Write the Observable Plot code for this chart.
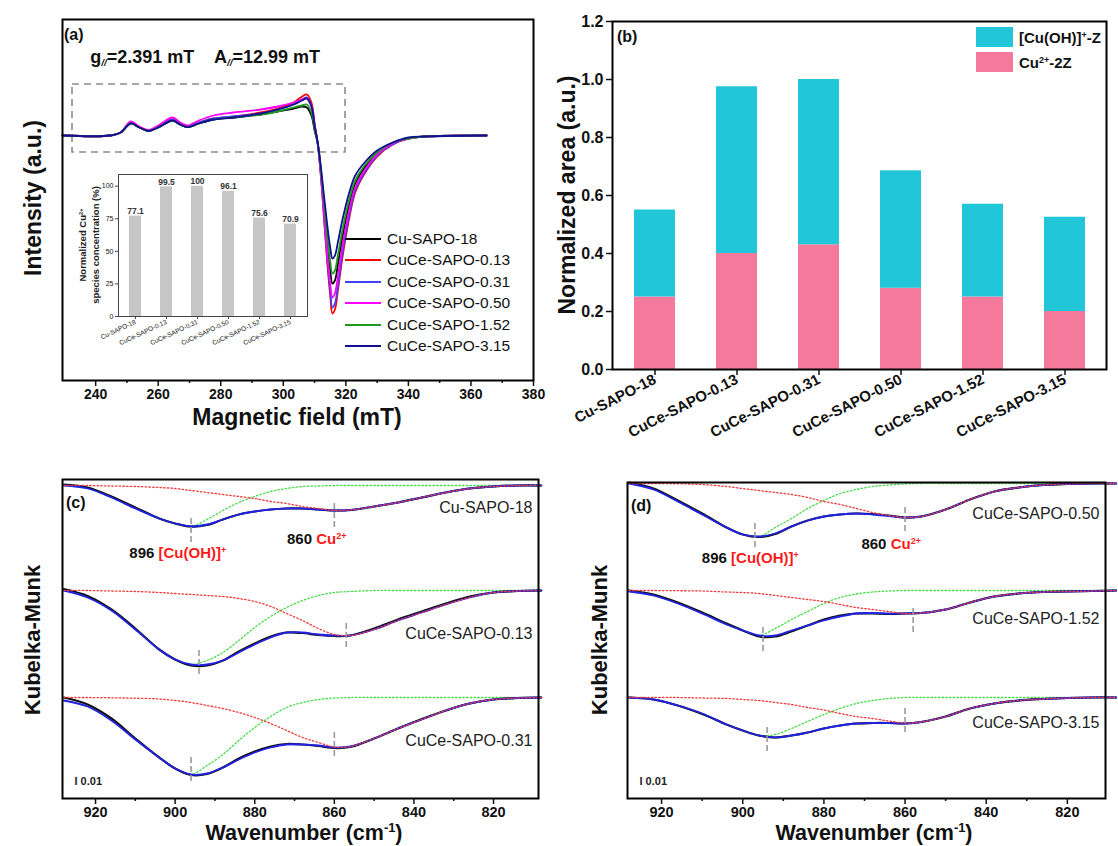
<!DOCTYPE html>
<html><head><meta charset="utf-8">
<script src="https://cdn.jsdelivr.net/npm/d3@7"></script>
<script src="https://cdn.jsdelivr.net/npm/@observablehq/plot@0.6"></script>
<style>
body{margin:0;background:#fff;}
#root{position:relative;width:1118px;height:846px;overflow:hidden;background:#fff;font-family:"Liberation Sans",Arial,Helvetica,sans-serif;color:#111;}
.abs{position:absolute;white-space:nowrap;line-height:1;}
sup{font-size:0.6em;vertical-align:0;position:relative;top:-0.6em;}
sub{font-size:0.55em;vertical-align:0;position:relative;top:0.35em;font-style:italic;}
</style></head><body><div id="root"></div>
<script>
// ---------------- DATA ----------------
const samples = ["Cu-SAPO-18","CuCe-SAPO-0.13","CuCe-SAPO-0.31","CuCe-SAPO-0.50","CuCe-SAPO-1.52","CuCe-SAPO-3.15"];

// (a) EPR spectra (magnetic field in mT, intensity a.u.)
const eprField = [229.4,244.8,248,251.2,254,256.9,260,264.6,267,269.4,273,277.7,284.1,292.8,298.2,303.3,306,307.5,309,310,311,312,313,314,315,315.7,316.5,317.5,319,321,323,326,330,335,340,345,365];
const eprCu18   = [0,0,3,12,8,4.5,8,15,11,8.5,12,16,18,21,24,27,29,28,20,5,-8,-35,-70,-105,-135,-148,-145,-128,-100,-70,-48,-32,-18,-8,-3,-1,0];
const eprCe013  = [0,0,3,13,8,5,9,16,12,9,13,17,19,23,27,33,39,41,33,12,-8,-40,-82,-125,-160,-178,-174,-154,-120,-84,-57,-38,-21,-9,-3,-1,0];
const eprCe031  = [0,0,3,13,8,5,9,16,12,9,13,17,19,22,26,31,36,38,30,10,-8,-39,-80,-121,-155,-172,-168,-149,-116,-81,-55,-37,-20,-9,-3,-1,0];
const eprCe050  = [0,0,3,14,9,5.5,10,18,13,10,15,20,23,26,29,33,36,37,29,10,-8,-38,-77,-116,-148,-162,-158,-140,-109,-76,-52,-35,-19,-8,-3,-1,0];
const eprCe152  = [0,0,3,12,8,4.5,8,15,11,8.5,12,16,18,21,24,28,30,31,23,7,-8,-34,-66,-99,-126,-138,-135,-119,-93,-65,-45,-30,-17,-7,-3,-1,0];
const eprCe315  = [0,0,3,12,8,4.5,8,15,11,8.5,12,16,18,22,26,31,35,37,29,10,-7,-31,-60,-88,-112,-123,-120,-106,-83,-58,-40,-27,-15,-7,-2,-1,0];
const eprValues = [eprCu18, eprCe013, eprCe031, eprCe050, eprCe152, eprCe315];
const eprColors = ["#000000","#ff0000","#4040ff","#ff00ff","#1f9a1f","#101090"];
const hyperfineBox = [{x1: 232.6, x2: 319.9, y1: -17, y2: 51}];

// (a) inset: normalized Cu2+ species concentration (%)
const insetConc = [77.1, 99.5, 100, 96.1, 75.6, 70.9];

// (b) normalized area
const areaCu2  = [0.25, 0.40, 0.43, 0.28, 0.25, 0.20];
const areaCuOH = [0.30, 0.575, 0.57, 0.405, 0.32, 0.325];
const speciesNames = ["Cu2+-2Z", "[Cu(OH)]+-Z"];
const speciesColors = ["#f5799a", "#21c7d9"];

// (c)/(d) Kubelka-Munk spectra: depth below each spectrum baseline
const kmWn = [928,922,916,910,904,900,896,892,888,884,880,876,872,868,864,860,856,850,844,838,832,826,820,814,808];
// Cu-SAPO-18
const km18Fit  = [0,3,12,23,33,38,41,39,34,29,26,24,23,23,24,25,24.5,21,17,12,7,3,1,0,0];
const km18Exp  = [-1,2,11,22,33,38,41,39.5,34,29,26,24,23,23,24,25,24.5,21,17,12,7,3,1,0,0];
const km18CuOH = [0,3,12,23,33,38,41,34,25,17,11,6,3,1,0.5,0,0,0,0,0,0,0,0,0,0];
const km18Cu2  = [0,0,0.5,1,2,3,5,7,9,11,13,16,18,21,23,25,24.5,21,17,12,7,3,1,0,0];
// CuCe-SAPO-0.13
const km013Fit  = [0,7,20,39,59,69,74,74,70,62,54,47,42,42,44,45,45,39,30,22,14,7,2,0.5,0];
const km013Exp  = [-1.5,5.5,19,38,59,69,75,75,70,61,53,46,42,42.5,44.5,45.5,45,38,29,21,13,6,2,0.5,0];
const km013CuOH = [0,7,20,39,59,69,74,70,62,50,37,26,17,10,5,2,1,0,0,0,0,0,0,0,0];
const km013Cu2  = [0,0,0.5,1,2,3,4,5,6,8,11,16,23,30,38,44,45,39,30,22,14,7,2,0.5,0];
// CuCe-SAPO-0.31
const km031Fit  = [3,9,23,42,60,71,77,76,70,62,55,50,47,47,48,50,49,41,31,22,13,6,2,0.5,0];
const km031Exp  = [0,7,21,41,60,71,77.5,76.5,70,61,54,49,46.5,47,48.5,50.5,49.5,41,31,21.5,13,6,2,0.5,0];
const km031CuOH = [3,9,23,42,60,71,77,68,57,43,30,19,10,5,2,0.5,0,0,0,0,0,0,0,0,0];
const km031Cu2  = [0,0,0.3,0.7,1.5,3,5,8,11,15,20,26,33,40,45,49.5,49,41,31,22,13,6,2,0.5,0];
// CuCe-SAPO-0.50
const km050Fit  = [0,6,18,31,44,51,53,50,43,37,33,31,30,31,32.5,34,33,26,16,8,4,1.5,0.5,0,0];
const km050Exp  = [-1,5,17,30,44,51,53.5,50.5,43,37,33,31,30,30.5,32,34,33,26,16,8,4,1.5,0.5,0,0];
const km050CuOH = [0,6,18,31,44,51,53,44,35,25,17,10,6,3,1.5,0.5,0,0,0,0,0,0,0,0,0];
const km050Cu2  = [0,0,0.3,1,3,5,7,9,11,14,18,21,25,29,32,34,33,26,16,8,4,1.5,0.5,0,0];
// CuCe-SAPO-1.52
const km152Fit  = [1,5,13,23,34,40,45,45,40,35,30,26,23,22.5,23,23,22.5,19,12,6,3,1.5,1,0.5,0];
const km152Exp  = [0,4,12,22,33,40,46,46,41,35,29,25,23,23,23.5,23,22.5,19,12,6,3,1.5,1,0.5,0];
const km152CuOH = [1,5,13,23,34,40,45,38,29,21,13,7,3.5,1.5,0.5,0,0,0,0,0,0,0,0,0,0];
const km152Cu2  = [0,0,0.2,0.5,1.5,2,3,5,7,9,11,14,17,19,21,23,22.5,19,12,6,3,1.5,1,0.5,0];
// CuCe-SAPO-3.15
const km315Fit  = [0,2,8,16,27,33,38,40,38,35,31,28,26,25.5,25.5,26,24.5,19,11,6,3,1.5,0.5,0,0];
const km315Exp  = [0,2,8,16.5,27,33,38,40,38,35,31,28,26,25.5,25.5,26,24.5,19,11,6,3,1.5,0.5,0,0];
const km315CuOH = [0,2,8,16,27,33,38,37,31,24,17,11,6,3,1,0,0,0,0,0,0,0,0,0,0];
const km315Cu2  = [0,0,0,0.5,1,2,3,5,7,10,12.5,16,19,21,23.5,25.5,24.5,19,11,6,3,1.5,0.5,0,0];

// fitted band positions (cm-1) per spectrum [Cu(OH)]+, Cu2+
const peakCuOH = [896, 894, 896, 897, 895, 894];
const peakCu2  = [860, 857, 860, 860, 858, 860];

// ---------------- LAYOUT / HELPERS ----------------
const FONT = '"Liberation Sans", Arial, Helvetica, sans-serif';
const root = document.getElementById("root");
function place(el, left, top) {
  el.style.position = "absolute"; el.style.left = left + "px"; el.style.top = top + "px";
  root.appendChild(el); return el;
}
function txt(html, x, y, o = {}) {
  const d = document.createElement("div");
  d.className = "abs";
  d.innerHTML = html;
  d.style.left = x + "px"; d.style.top = y + "px";
  d.style.fontSize = (o.size || 15) + "px";
  d.style.fontWeight = o.weight || "bold";
  d.style.color = o.color || "#111";
  const ax = o.anchor === "start" ? "0" : o.anchor === "end" ? "-100%" : "-50%";
  d.style.transform = `translate(${ax},-50%)` + (o.rotate ? ` rotate(${o.rotate}deg)` : "");
  root.appendChild(d);
  return d;
}
const baseStyle = {fontFamily: FONT, fontSize: "15px", fontWeight: "bold", color: "#111", background: "transparent", overflow: "visible"};

// ---------------- PANEL (a) ----------------
const eprTable = samples.flatMap((name, i) => eprField.map((f, j) => ({field: f, value: eprValues[i][j], name})));
const A = {left: 0, top: 0};
const plotA = Plot.plot({
  width: 560, height: 430, marginLeft: 62, marginTop: 19, marginRight: 27, marginBottom: 50,
  x: {domain: [229.4, 380]},
  y: {domain: [-245, 116], axis: null},
  color: {domain: samples, range: eprColors},
  style: baseStyle,
  marks: [
    Plot.rect(hyperfineBox, {x1: "x1", x2: "x2", y1: "y1", y2: "y2", fill: "none", stroke: "#8c8c8c", strokeWidth: 1.6, strokeDasharray: "7,5"}),
    Plot.line(eprTable, {x: "field", y: "value", z: "name", stroke: "name", strokeWidth: 1.8, curve: "catmull-rom"}),
    Plot.axisX({ticks: [240,260,280,300,320,340,360,380], tickSize: 6, tickPadding: 3, fontSize: 14, tickFormat: d3.format("d"), label: null, strokeWidth: 1.5}),
    Plot.axisX({ticks: [250,270,290,310,330,350,370], tickSize: 3, tickFormat: () => "", label: null, strokeWidth: 1.5}),
    Plot.frame({stroke: "#000", strokeWidth: 2})
  ]
});
place(plotA, A.left, A.top);
{
  const sx = plotA.scale("x"), sy = plotA.scale("y");
  txt("(a)", 64, 35, {size: 16, anchor: "start"});
  txt("g<sub>//</sub>=2.391 mT", A.left + sx.apply(238.4), A.top + sy.apply(78), {size: 18, anchor: "start"});
  txt("A<sub>//</sub>=12.99 mT", A.left + sx.apply(278.0), A.top + sy.apply(78), {size: 18, anchor: "start"});
}
// legend (a)
samples.forEach((name, i) => {
  const yy = 239 + i * 21.4;
  const ln = document.createElement("div");
  ln.style.width = "36px"; ln.style.height = "2px"; ln.style.background = eprColors[i];
  place(ln, 345, yy - 1);
  txt(name, 387, yy, {size: 15.5, weight: "normal", anchor: "start"});
});
txt("Intensity (a.u.)", 33, 198, {size: 23, rotate: -90});
txt("Magnetic field (mT)", 297, 417, {size: 23});

// inset
const insetTable = samples.map((s, i) => ({sample: s, conc: insetConc[i]}));
const plotIn = Plot.plot({
  width: 214, height: 182, marginLeft: 20, marginRight: 5, marginTop: 6, marginBottom: 34,
  x: {domain: samples, paddingInner: 0.6, paddingOuter: 0.3},
  y: {domain: [0, 109]},
  style: {...baseStyle, fontSize: "7px"},
  marks: [
    Plot.barY(insetTable, {x: "sample", y: "conc", fill: "#c6c6c6"}),
    Plot.text(insetTable, {x: "sample", y: "conc", text: d => String(d.conc), dy: -5, fontSize: 8.5, fontWeight: "bold", fill: "#333"}),
    Plot.axisY({ticks: [0,25,50,75,100], tickSize: 3, tickPadding: 2, fontSize: 7, fontWeight: "normal", label: null, stroke: "#444"}),
    Plot.axisX({tickRotate: -25, tickSize: 3, tickPadding: 2, fontSize: 6.5, fontWeight: "normal", label: null, stroke: "#444"}),
    Plot.frame({stroke: "#444", strokeWidth: 1})
  ]
});
place(plotIn, 98, 168);
txt("Normalized Cu<sup>2+</sup>", 83, 245, {size: 9.5, rotate: -90, color: "#222"});
txt("species concentration (%)", 96, 245, {size: 9.5, rotate: -90, color: "#222"});

// ---------------- PANEL (b) ----------------
const areaTable = [
  ...samples.map((s, i) => ({sample: s, species: speciesNames[0], value: areaCu2[i]})),
  ...samples.map((s, i) => ({sample: s, species: speciesNames[1], value: areaCuOH[i]}))
];
const plotB = Plot.plot({
  width: 576, height: 450, marginLeft: 72, marginRight: 10, marginTop: 21, marginBottom: 81,
  x: {domain: samples, paddingInner: 0.5, paddingOuter: 0.25},
  y: {domain: [0, 1.2]},
  color: {domain: speciesNames, range: speciesColors},
  style: {...baseStyle, fontSize: "16px"},
  marks: [
    Plot.barY(areaTable, {x: "sample", y: "value", fill: "species"}),
    Plot.axisY({ticks: [0,0.2,0.4,0.6,0.8,1.0,1.2], tickFormat: d3.format(".1f"), tickSize: 6, tickPadding: 3, label: null, strokeWidth: 1.5}),
    Plot.axisX({tickRotate: -27, tickSize: 6, tickPadding: 3, label: null, fontSize: 15, strokeWidth: 1.5}),
    Plot.frame({stroke: "#000", strokeWidth: 2})
  ]
});
place(plotB, 540, 0);
txt("(b)", 617, 37, {size: 16, anchor: "start"});
txt("Normalized area (a.u.)", 567, 195, {size: 23, rotate: -90});
[["[Cu(OH)]<sup>+</sup>-Z", speciesColors[1], 37], ["Cu<sup>2+</sup>-2Z", speciesColors[0], 62]].forEach(([h, c, yy]) => {
  const b = document.createElement("div");
  b.style.width = "37px"; b.style.height = "20px"; b.style.background = c;
  place(b, 976, yy - 10);
  txt(h, 1019, yy, {size: 15, anchor: "start"});
});

// ---------------- PANELS (c), (d) ----------------
function kmPanel(cfg) {
  const rows = {fit: [], exp: [], cuoh: [], cu2: []};
  cfg.spectra.forEach((sp, s) => {
    for (const k of ["fit","exp","cuoh","cu2"]) {
      sp[k].forEach((v, j) => rows[k].push({wn: kmWn[j], y: -(cfg.offsets[s] + v), s}));
    }
  });
  const marks = [];
  cfg.spectra.forEach((sp, s) => {
    marks.push({wn: sp.p1, y1: -(cfg.offsets[s] + sp.m1[0]), y2: -(cfg.offsets[s] + sp.m1[1])});
    marks.push({wn: sp.p2, y1: -(cfg.offsets[s] + sp.m2[0]), y2: -(cfg.offsets[s] + sp.m2[1])});
  });
  const labels = cfg.spectra.map((sp, s) => ({name: sp.name, y: -(cfg.offsets[s] + sp.labelDepth)}));
  const p = Plot.plot({
    width: cfg.width, height: 386, marginLeft: 62, marginTop: cfg.mt, marginRight: cfg.mr, marginBottom: cfg.mb,
    x: {domain: cfg.xdomain},
    y: {domain: [cfg.ybottom, 0], axis: null},
    style: baseStyle,
    marks: [
      Plot.line(rows.cuoh, {x: "wn", y: "y", z: "s", stroke: "#46dc46", strokeWidth: 1.3, strokeDasharray: "1.5,2.2", curve: "catmull-rom"}),
      Plot.line(rows.exp, {x: "wn", y: "y", z: "s", stroke: "#111", strokeWidth: 2.2, curve: "catmull-rom"}),
      Plot.line(rows.fit, {x: "wn", y: "y", z: "s", stroke: "#2222e6", strokeWidth: 1.8, curve: "catmull-rom"}),
      Plot.line(rows.cu2, {x: "wn", y: "y", z: "s", stroke: "#f03c3c", strokeWidth: 1.3, strokeDasharray: "1.5,2.2", curve: "catmull-rom"}),
      Plot.ruleX(marks, {x: "wn", y1: "y1", y2: "y2", stroke: "#9a9a9a", strokeWidth: 1.6, strokeDasharray: "6,3"}),
      Plot.text(labels, {y: "y", text: "name", frameAnchor: "right", textAnchor: "end", dx: -6, fontSize: 16, fontWeight: "normal", fill: "#222"}),
      Plot.text(["I 0.01"], {frameAnchor: "bottom-left", textAnchor: "start", dx: 12, dy: -14, fontSize: 11, fontWeight: "bold", fill: "#222"}),
      Plot.axisX({ticks: [920,900,880,860,840,820], tickSize: 6, tickPadding: 2, fontSize: 14.5, tickFormat: d3.format("d"), label: null, strokeWidth: 1.5}),
      Plot.axisX({ticks: [910,890,870,850,830], tickSize: 3, tickFormat: () => "", label: null, strokeWidth: 1.5}),
      Plot.frame({stroke: "#000", strokeWidth: 2})
    ]
  });
  place(p, cfg.left, 460);
  const sx = p.scale("x"), sy = p.scale("y");
  const X = v => cfg.left + sx.apply(v), Y = v => 460 + sy.apply(v);
  txt(cfg.tag, cfg.left + 62 + 4, 460 + cfg.mt + 24, {size: 16, anchor: "start"});
  txt('896 <span style="color:#ff1a1a">[Cu(OH)]<sup>+</sup></span>', X(cfg.ann1[0]), Y(cfg.ann1[1]), {size: 15});
  txt('860 <span style="color:#ff1a1a">Cu<sup>2+</sup></span>', X(cfg.ann2[0]), Y(cfg.ann2[1]), {size: 15});
  return p;
}
kmPanel({
  left: 0, width: 560, mt: 19, mr: 22, mb: 48, xdomain: [928.3, 808.7], ybottom: -319,
  offsets: [6, 111, 218], tag: "(c)", ann1: [899.2, -73], ann2: [864.3, -59],
  spectra: [
    {name: samples[0], fit: km18Fit, exp: km18Exp, cuoh: km18CuOH, cu2: km18Cu2, p1: peakCuOH[0], p2: peakCu2[0], m1: [33, 57], m2: [18, 45], labelDepth: 22},
    {name: samples[1], fit: km013Fit, exp: km013Exp, cuoh: km013CuOH, cu2: km013Cu2, p1: peakCuOH[1], p2: peakCu2[1], m1: [60, 85], m2: [33, 60], labelDepth: 43},
    {name: samples[2], fit: km031Fit, exp: km031Exp, cuoh: km031CuOH, cu2: km031Cu2, p1: peakCuOH[2], p2: peakCu2[2], m1: [60, 86], m2: [35, 60], labelDepth: 43}
  ]
});
kmPanel({
  left: 565, width: 553, mt: 22, mr: 13, mb: 48, xdomain: [928.4, 810.6], ybottom: -316,
  offsets: [1, 108, 215], tag: "(d)", ann1: [898, -75], ann2: [863.3, -61],
  spectra: [
    {name: samples[3], fit: km050Fit, exp: km050Exp, cuoh: km050CuOH, cu2: km050Cu2, p1: peakCuOH[3], p2: peakCu2[3], m1: [40, 65], m2: [24, 49], labelDepth: 30},
    {name: samples[4], fit: km152Fit, exp: km152Exp, cuoh: km152CuOH, cu2: km152Cu2, p1: peakCuOH[4], p2: peakCu2[4], m1: [37, 62], m2: [18, 45], labelDepth: 28},
    {name: samples[5], fit: km315Fit, exp: km315Exp, cuoh: km315CuOH, cu2: km315Cu2, p1: peakCuOH[5], p2: peakCu2[5], m1: [30, 56], m2: [11, 36], labelDepth: 25}
  ]
});
txt("Kubelka-Munk", 33, 640, {size: 22, rotate: -90});
txt("Kubelka-Munk", 600, 640, {size: 22, rotate: -90});
txt("Wavenumber (cm<sup>-1</sup>)", 304, 834, {size: 21.5});
txt("Wavenumber (cm<sup>-1</sup>)", 874, 834, {size: 21.5});
</script></body></html>
